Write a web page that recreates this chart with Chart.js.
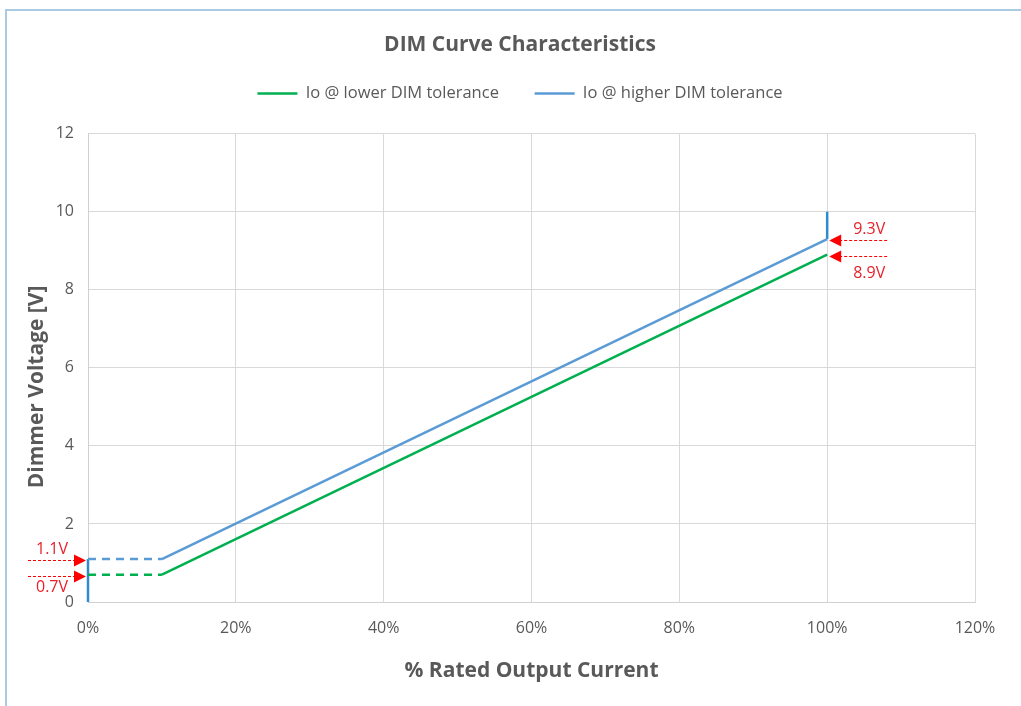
<!DOCTYPE html>
<html>
<head>
<meta charset="utf-8">
<script src="https://cdn.jsdelivr.net/npm/chart.js@4.4.1/dist/chart.umd.min.js"></script>
<style>
  html, body { margin: 0; padding: 0; background: #ffffff; }
  #wrap { position: relative; width: 1021px; height: 706px; overflow: hidden; }
  #frame { position: absolute; left: 5px; top: 9px; width: 1030px; height: 720px;
           border-left: 2px solid #a9cbe2; border-top: 2px solid #a9cbe2; box-sizing: border-box; }
  canvas { position: absolute; left: 0; top: 0; }
</style>
</head>
<body>
<div id="wrap">
  <div id="frame"></div>
  <canvas id="c" width="1021" height="706"></canvas>
</div>
<script>
// ---- Data ----
const chartTitle = 'DIM Curve Characteristics';
const seriesNames = ['Io @ lower DIM tolerance', 'Io @ higher DIM tolerance'];
const ratedCurrentPct = [0, 10, 100];          // % rated output current
const lowerDimVoltage = [0.7, 0.7, 8.9];       // V
const higherDimVoltage = [1.1, 1.1, 9.3];      // V
const startMarkerX = [0, 0];                   // vertical marker at 0 %
const startMarkerY = [0, 1.1];
const endMarkerX = [100, 100];                 // vertical marker at 100 %
const endMarkerY = [9.3, 10];
const xTicks = [0, 20, 40, 60, 80, 100, 120];
const yTicks = [0, 2, 4, 6, 8, 10, 12];
const calloutValues = [1.1, 0.7, 9.3, 8.9];
const calloutLabels = ['1.1V', '0.7V', '9.3V', '8.9V'];
const calloutAtX = [0, 0, 100, 100];

// ---- Styles ----
const GREEN = '#00b050';
const BLUE = '#5b9bd5';
const MARK = '#2f8ad0';
const TXT = '#595959';
const RED = '#ff0000';
const FONT = '"Open Sans", Lato, sans-serif';

const toPts = (xs, ys) => xs.map((x, i) => ({x, y: ys[i]}));
const dashFirst = ctx => (ctx.p0.parsed.x === 0 && ctx.p1.parsed.x === 10) ? [8, 6] : undefined;

// callout configuration (style only)
const calloutSide = ['left', 'left', 'right', 'right'];
const calloutTextPos = ['above', 'below', 'above', 'below'];

const calloutPlugin = {
  id: 'callouts',
  afterDatasetsDraw(chart) {
    const {ctx, scales: {x, y}} = chart;
    ctx.save();
    calloutValues.forEach((v, i) => {
      const py = Math.round(y.getPixelForValue(v) + 1) + 0.5;
      const ax = x.getPixelForValue(calloutAtX[i]);
      const left = calloutSide[i] === 'left';
      const tip = left ? ax - 2 : ax + 2;
      const dir = left ? -1 : 1;
      const len = 58;
      ctx.strokeStyle = RED;
      ctx.lineWidth = 1;
      ctx.setLineDash([3, 2]);
      ctx.beginPath();
      ctx.moveTo(tip + dir * 10, py);
      ctx.lineTo(tip + dir * len, py);
      ctx.stroke();
      ctx.setLineDash([]);
      ctx.fillStyle = RED;
      ctx.beginPath();
      ctx.moveTo(tip, py);
      ctx.lineTo(tip + dir * 12, py - 6);
      ctx.lineTo(tip + dir * 12, py + 6);
      ctx.closePath();
      ctx.fill();
      ctx.font = '16px ' + FONT;
      ctx.fillStyle = '#e8202a';
      ctx.textAlign = 'center';
      ctx.textBaseline = 'middle';
      const tx = left ? tip - 34 : tip + 40;
      const ty = calloutTextPos[i] === 'above' ? py - 11 : py + (left ? 11 : 17);
      ctx.fillText(calloutLabels[i], tx, ty);
    });
    ctx.restore();
  }
};

const chart = new Chart(document.getElementById('c'), {
  type: 'line',
  data: {
    datasets: [
      {
        label: seriesNames[0],
        data: toPts(ratedCurrentPct, lowerDimVoltage),
        borderColor: GREEN, backgroundColor: GREEN, borderWidth: 2.5,
        pointRadius: 0, clip: false, tension: 0,
        segment: { borderDash: dashFirst }
      },
      {
        label: seriesNames[1],
        data: toPts(ratedCurrentPct, higherDimVoltage),
        borderColor: BLUE, backgroundColor: BLUE, borderWidth: 2.5,
        pointRadius: 0, clip: false, tension: 0,
        segment: { borderDash: dashFirst }
      },
      {
        label: 'start',
        data: toPts(startMarkerX, startMarkerY),
        borderColor: MARK, borderWidth: 2.5, pointRadius: 0, clip: false
      },
      {
        label: 'end',
        data: toPts(endMarkerX, endMarkerY),
        borderColor: MARK, borderWidth: 2.5, pointRadius: 0, clip: false
      }
    ]
  },
  options: {
    responsive: false,
    devicePixelRatio: 1,
    animation: false,
    layout: { padding: { left: 19, right: 0, top: 0, bottom: 0 } },
    plugins: {
      title: {
        display: true, text: chartTitle, color: TXT,
        font: { family: FONT, size: 21, weight: 'bold' },
        padding: { top: 32, bottom: 18 }
      },
      legend: {
        display: true,
        labels: {
          filter: item => item.datasetIndex < 2,
          generateLabels: c => {
            const items = Chart.defaults.plugins.legend.labels.generateLabels(c);
            items.forEach(it => { if (it.datasetIndex === 0) it.text = it.text + '\u00a0\u00a0\u00a0\u00a0\u00a0\u00a0'; });
            return items;
          },
          usePointStyle: true, pointStyle: 'line', pointStyleWidth: 40,
          color: TXT, font: { family: FONT, size: 16.5 }, padding: 10
        }
      },
      tooltip: { enabled: false }
    },
    scales: {
      x: {
        type: 'linear', min: 0, max: 120,
        afterBuildTicks: s => { s.ticks = xTicks.map(v => ({value: v})); },
        ticks: { callback: v => v + '%', color: TXT, font: { family: FONT, size: 16 }, padding: 17, maxRotation: 0 },
        grid: { color: '#d9d9d9', drawTicks: false },
        border: { color: '#d0d0d0' },
        title: { display: true, text: '% Rated Output Current', color: TXT,
                 font: { family: FONT, size: 21, weight: 'bold' }, padding: { top: 0, bottom: 22 } },
        afterFit: s => { s.height = 104; }
      },
      xt: {
        position: 'top', display: true, min: 0, max: 1,
        ticks: { display: false }, grid: { display: false }, border: { display: false },
        afterFit: s => { s.height = 22; }
      },
      y: {
        type: 'linear', min: 0, max: 12,
        afterBuildTicks: s => { s.ticks = yTicks.map(v => ({value: v})); },
        ticks: { color: TXT, font: { family: FONT, size: 16 }, padding: 14 },
        grid: { color: '#d9d9d9', drawTicks: false },
        border: { color: '#d0d0d0' },
        title: { display: true, text: 'Dimmer Voltage [V]\u00a0\u00a0\u00a0\u00a0\u00a0\u00a0\u00a0', color: TXT,
                 font: { family: FONT, size: 21, weight: 'bold' }, padding: { top: 5, bottom: 0 } },
        afterFit: s => { s.width = 69; }
      },
      yr: {
        position: 'right', display: true, min: 0, max: 12,
        ticks: { display: false }, grid: { display: false }, border: { display: false },
        afterFit: s => { s.width = 46; }
      }
    }
  },
  plugins: [calloutPlugin]
});
</script>
</body>
</html>
